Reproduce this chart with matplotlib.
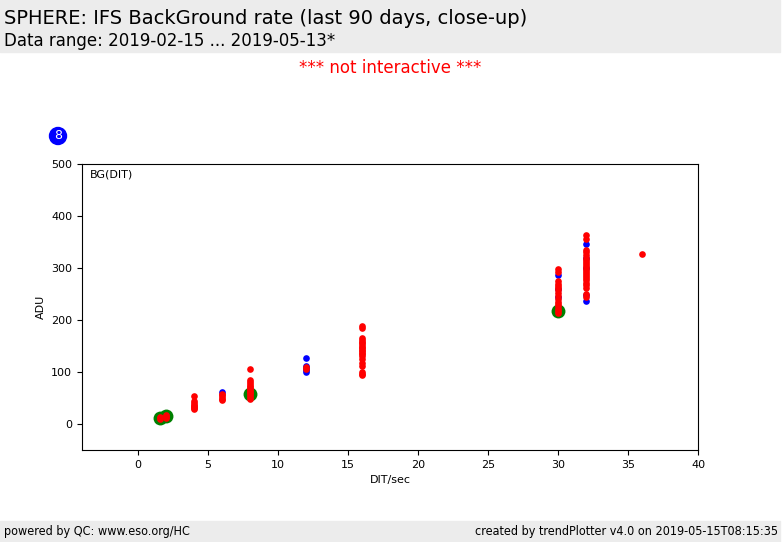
import matplotlib
matplotlib.use('Agg')
import matplotlib.pyplot as plt
from matplotlib.patches import Rectangle, Ellipse

# DIT values (sec) and background levels (ADU)
red_dit = ([1.6] * 3 + [2.0] * 4 + [4.0] * 8 + [6.0] * 5 + [8.0] * 13 + [12.0] * 2
           + [16.0] * 20 + [30.0] * 16 + [32.0] * 22 + [36.0])
red_adu = ([10, 12, 14] + [12, 14, 16, 18]
           + [54, 44, 40, 37, 35, 33, 31, 29]
           + [58, 55, 52, 49, 47]
           + [106, 84, 80, 77, 74, 71, 68, 65, 62, 59, 56, 52, 48]
           + [109, 106]
           + [188, 184, 166, 162, 158, 155, 152, 149, 146, 143, 140, 137, 134, 130,
              125, 118, 112, 100, 97, 94]
           + [298, 293, 275, 270, 266, 262, 258, 252, 246, 240, 235, 230, 226, 222,
              218, 214]
           + [363, 355, 335, 330, 325, 320, 316, 312, 308, 304, 300, 296, 292, 288,
              284, 280, 276, 272, 268, 262, 250, 244]
           + [327])

blue_dit = [1.6, 6.0] + [12.0] * 5 + [30.0] * 3 + [32.0] * 5
blue_adu = [15, 61, 127, 112, 108, 104, 100, 286, 260, 244, 346, 320, 300, 248, 236]

median_dit = [1.6, 2.0, 8.0, 30.0]
median_adu = [12, 15, 57, 218]

W, H = 782, 542
fig = plt.figure(figsize=(W / 100, H / 100), dpi=100)

# header / footer bands
fig.patches.append(Rectangle((0, 1 - 52 / H), 780 / W, 52 / H,
                             transform=fig.transFigure, color='#ececec', zorder=0))
fig.patches.append(Rectangle((0, 0), 780 / W, 21 / H,
                             transform=fig.transFigure, color='#ececec', zorder=0))

fig.text(4 / W, 1 - 18 / H, 'SPHERE: IFS BackGround rate (last 90 days, close-up)',
         fontsize=14, va='center', ha='left')
fig.text(4 / W, 1 - 41 / H, 'Data range: 2019-02-15 ... 2019-05-13*',
         fontsize=12, va='center', ha='left')
fig.text(390 / W, 1 - 68 / H, '*** not interactive ***',
         fontsize=12, color='red', va='center', ha='center')

fig.text(4 / W, 1 - 531 / H, 'powered by QC: www.eso.org/HC',
         fontsize=9, va='center', ha='left', fontstretch='condensed')
fig.text(778 / W, 1 - 531 / H, 'created by trendPlotter v4.0 on 2019-05-15T08:15:35',
         fontsize=9, va='center', ha='right', fontstretch='condensed')

# blue badge
fig.patches.append(Ellipse((58 / W, 1 - 136 / H), 17 / W, 17 / H,
                           transform=fig.transFigure, color='blue', zorder=2))
fig.text(58 / W, 1 - 136 / H, '8', color='white', fontsize=9,
         ha='center', va='center', zorder=3)

ax = fig.add_axes([82 / W, 1 - 450 / H, 616 / W, 286 / H])
ax.plot(blue_dit, blue_adu, 'o', color='blue', markersize=4.8, markeredgewidth=0, zorder=2)
ax.plot(median_dit, median_adu, 'o', color='green', markersize=10, markeredgewidth=0, zorder=3)
ax.plot(red_dit, red_adu, 'o', color='red', markersize=4.8, markeredgewidth=0, zorder=4)

ax.set_xlim(-4, 40)
ax.set_ylim(-50, 500)
ax.set_xticks([0, 5, 10, 15, 20, 25, 30, 35, 40])
ax.set_yticks([0, 100, 200, 300, 400, 500])
ax.tick_params(labelsize=8)
ax.set_xlabel('DIT/sec', fontsize=8)
ax.set_ylabel('ADU', fontsize=8)
ax.text(0.012, 0.98, 'BG(DIT)', transform=ax.transAxes, fontsize=8, va='top', ha='left')

fig.savefig('out.png', dpi=100)
